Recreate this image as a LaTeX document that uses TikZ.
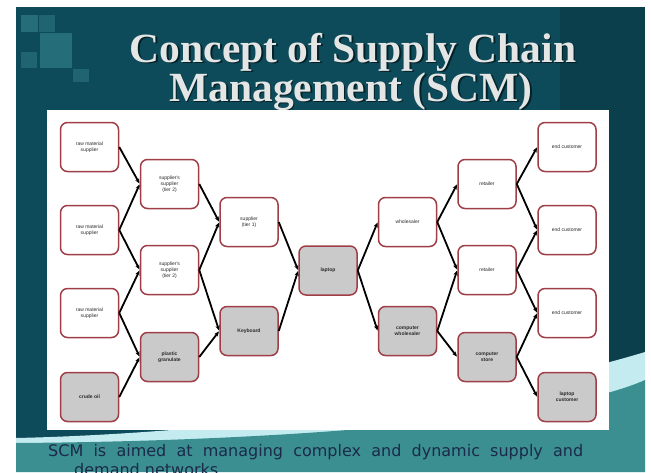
\documentclass[tikz,border=0pt]{standalone}
\usepackage{fontspec}
\setmainfont{Liberation Serif}
\newfontfamily\nodefont{Liberation Sans}
\newfontfamily\bodyfont{DejaVu Sans}
\usetikzlibrary{arrows.meta}
\definecolor{bgdark}{HTML}{0D4B5A}
\definecolor{bgdeep}{HTML}{083842}
\definecolor{bgteal}{HTML}{3B8F91}
\definecolor{swlight}{HTML}{C4ECF0}
\definecolor{sqcol}{HTML}{3A8A92}
\definecolor{titlecol}{HTML}{E4E6E6}
\definecolor{boxred}{HTML}{A03E47}
\definecolor{boxgrey}{HTML}{CACACA}
\definecolor{navy}{HTML}{1B2A4A}
\definecolor{nodetext}{HTML}{2A2A2A}
\tikzset{
  chainbox/.style={draw=boxred, line width=1.5pt, rounded corners=7pt, fill=white,
    minimum width=58pt, minimum height=49pt, align=center, inner sep=1pt,
    text=nodetext, font=\nodefont\fontsize{5}{6}\selectfont},
  greybox/.style={chainbox, fill=boxgrey, font=\nodefont\bfseries\fontsize{5}{6}\selectfont},
  flow/.style={-{Stealth[length=5pt,width=4.2pt]}, line width=1.8pt, black, shorten >=0.5pt},
  titletext/.style={font=\bfseries\fontsize{41.5}{44}\selectfont, anchor=base, inner sep=0pt},
  sqdeco/.style={fill=sqcol, fill opacity=0.55}
}
\begin{document}
\begin{tikzpicture}[x=1pt,y=-1pt]
\useasboundingbox (0,0) rectangle (651,472);
\fill[white] (0,0) rectangle (651,472);
\begin{scope}
\clip (16,7) rectangle (645,472);
\fill[bgdark] (16,7) rectangle (645,472);
\fill[bgdeep, opacity=0.6] (560,7) rectangle (645,472);
\fill[swlight] (16,438) .. controls (200,434) and (470,405) .. (645,352) -- (645,472) -- (16,472) -- cycle;
\fill[bgteal] (16,443) .. controls (300,441) and (560,418) .. (645,380) -- (645,472) -- (16,472) -- cycle;
% decorative squares
\fill[sqdeco] (21,15) rectangle (38,32);
\fill[sqdeco, fill opacity=0.4] (39,15) rectangle (55,32);
\fill[sqdeco] (40,33) rectangle (72,68);
\fill[sqdeco, fill opacity=0.4] (21,52) rectangle (37,68);
\fill[sqdeco, fill opacity=0.4] (73,69) rectangle (89,82);
% title
\node[titletext, text=black, opacity=0.55] (sh1) at (354.5,63.5) {Concept of Supply Chain};
\node[titletext, text=black, opacity=0.55] (sh2) at (352.5,102.5) {Management (SCM)};
\node[titletext, text=titlecol] (title1) at (353,62) {Concept of Supply Chain};
\node[titletext, text=titlecol] (title2) at (351,101) {Management (SCM)};
% panel
\fill[white] (47,110) rectangle (609,430);
% nodes
\node[chainbox] (rm1) at (89.5,147) {raw material\\supplier};
\node[chainbox] (rm2) at (89.5,230) {raw material\\supplier};
\node[chainbox] (rm3) at (89.5,313) {raw material\\supplier};
\node[greybox] (oil) at (89.5,397) {crude oil};
\node[chainbox] (ss1) at (169.5,184) {supplier's\\supplier\\(tier 2)};
\node[chainbox] (ss2) at (169.5,270) {supplier's\\supplier\\(tier 2)};
\node[greybox] (pg) at (169.5,357) {plastic\\granulate};
\node[chainbox] (t1) at (249,222) {supplier\\(tier 1)};
\node[greybox] (kb) at (249,331) {Keyboard};
\node[greybox] (lap) at (328,270.5) {laptop};
\node[chainbox] (wh) at (407.5,222) {wholesaler};
\node[greybox] (cw) at (407.5,331) {computer\\wholesaler};
\node[chainbox] (re1) at (487,184) {retailer};
\node[chainbox] (re2) at (487,270) {retailer};
\node[greybox] (cs) at (487,357) {computer\\store};
\node[chainbox] (ec1) at (567,147) {end customer};
\node[chainbox] (ec2) at (567,230) {end customer};
\node[chainbox] (ec3) at (567,313) {end customer};
\node[greybox] (lc) at (567,397) {laptop\\customer};
% connectors
\draw[flow] (rm1.east) -- (ss1.west);
\draw[flow] (rm2.east) -- (ss1.west);
\draw[flow] (rm2.east) -- (ss2.west);
\draw[flow] (rm3.east) -- (ss2.west);
\draw[flow] (rm3.east) -- (pg.west);
\draw[flow] (oil.east) -- (pg.west);
\draw[flow] (ss1.east) -- (t1.west);
\draw[flow] (ss2.east) -- (t1.west);
\draw[flow] (ss2.east) -- (kb.west);
\draw[flow] (pg.east) -- (kb.west);
\draw[flow] (t1.east) -- (lap.west);
\draw[flow] (kb.east) -- (lap.west);
\draw[flow] (lap.east) -- (wh.west);
\draw[flow] (lap.east) -- (cw.west);
\draw[flow] (wh.east) -- (re1.west);
\draw[flow] (wh.east) -- (re2.west);
\draw[flow] (cw.east) -- (re2.west);
\draw[flow] (cw.east) -- (cs.west);
\draw[flow] (re1.east) -- (ec1.west);
\draw[flow] (re1.east) -- (ec2.west);
\draw[flow] (re2.east) -- (ec2.west);
\draw[flow] (re2.east) -- (ec3.west);
\draw[flow] (cs.east) -- (ec3.west);
\draw[flow] (cs.east) -- (lc.west);
% bottom text
\node[anchor=base west, inner sep=0pt, text=navy, font=\bodyfont\fontsize{16}{19}\selectfont] (body1) at (48,456) {\makebox[535pt][s]{SCM is aimed at managing complex and dynamic supply and}};
\node[anchor=base west, inner sep=0pt, text=navy, font=\bodyfont\fontsize{16}{19}\selectfont] (body2) at (74,475) {demand networks.};
\end{scope}
\end{tikzpicture}
\end{document}
